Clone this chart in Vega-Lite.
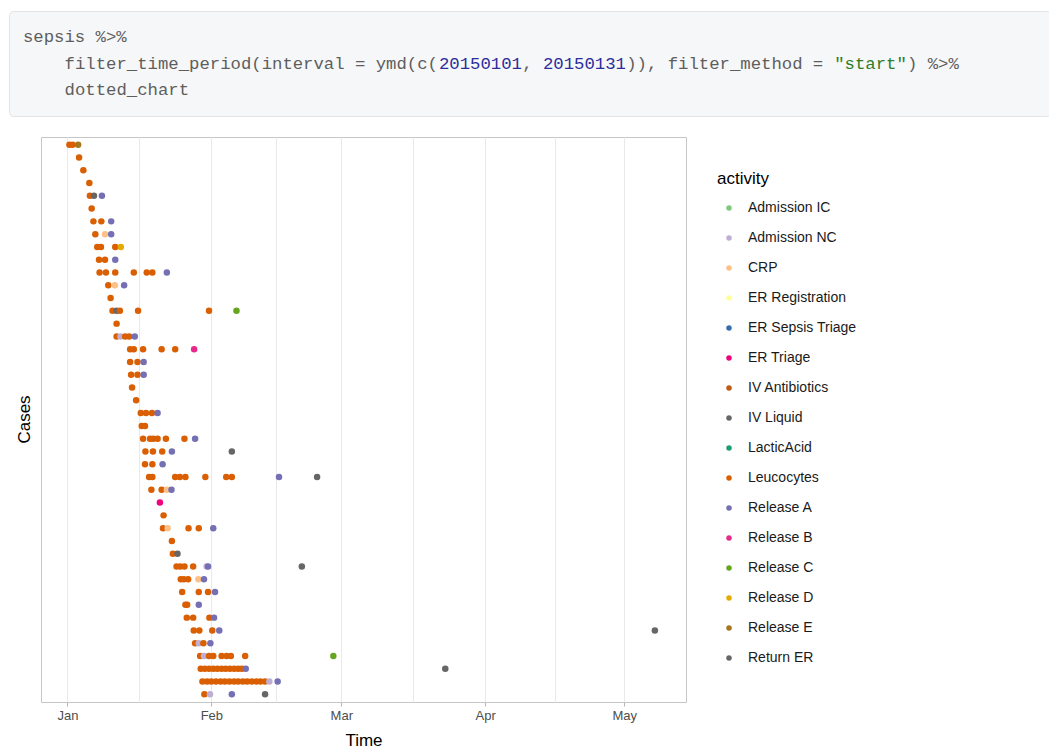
{
  "$schema": "https://vega.github.io/schema/vega-lite/v6.json",
  "padding": {"left": 8, "top": 10, "right": 0, "bottom": 0},
  "spacing": 19,
  "background": "white",
  "config": {"font": "Liberation Sans"},
  "datasets": {
    "code": [
      {"line": 1, "col": 0, "text": "sepsis %>%", "kind": "plain"},
      {"line": 2, "col": 4, "text": "filter_time_period(interval = ymd(c(", "kind": "plain"},
      {"line": 2, "col": 40, "text": "20150101", "kind": "number"},
      {"line": 2, "col": 48, "text": ",", "kind": "plain"},
      {"line": 2, "col": 50, "text": "20150131", "kind": "number"},
      {"line": 2, "col": 58, "text": ")), filter_method = ", "kind": "plain"},
      {"line": 2, "col": 78, "text": "\"start\"", "kind": "string"},
      {"line": 2, "col": 85, "text": ") %>%", "kind": "plain"},
      {"line": 3, "col": 4, "text": "dotted_chart", "kind": "plain"}
    ],
    "ytitle": [{"label": "Cases"}],
    "events": [
      {"case": 1, "time": "2015-01-01T10:00", "activity": "Leucocytes"},
      {"case": 1, "time": "2015-01-02T02:00", "activity": "Leucocytes"},
      {"case": 1, "time": "2015-01-03T07:00", "activity": "Release E"},
      {"case": 2, "time": "2015-01-03T12:00", "activity": "Leucocytes"},
      {"case": 3, "time": "2015-01-04T10:00", "activity": "Leucocytes"},
      {"case": 4, "time": "2015-01-05T17:00", "activity": "Leucocytes"},
      {"case": 5, "time": "2015-01-05T20:00", "activity": "Leucocytes"},
      {"case": 5, "time": "2015-01-06T17:00", "activity": "IV Liquid"},
      {"case": 5, "time": "2015-01-08T10:00", "activity": "Release A"},
      {"case": 6, "time": "2015-01-06T05:00", "activity": "Leucocytes"},
      {"case": 7, "time": "2015-01-06T14:00", "activity": "Leucocytes"},
      {"case": 7, "time": "2015-01-08T07:00", "activity": "Leucocytes"},
      {"case": 7, "time": "2015-01-10T10:00", "activity": "Release A"},
      {"case": 8, "time": "2015-01-07T00:00", "activity": "Leucocytes"},
      {"case": 8, "time": "2015-01-09T02:00", "activity": "CRP"},
      {"case": 8, "time": "2015-01-10T10:00", "activity": "Release A"},
      {"case": 9, "time": "2015-01-07T10:00", "activity": "Leucocytes"},
      {"case": 9, "time": "2015-01-08T05:00", "activity": "Leucocytes"},
      {"case": 9, "time": "2015-01-11T07:00", "activity": "Leucocytes"},
      {"case": 9, "time": "2015-01-12T12:00", "activity": "Release D"},
      {"case": 10, "time": "2015-01-07T19:00", "activity": "Leucocytes"},
      {"case": 10, "time": "2015-01-09T02:00", "activity": "Leucocytes"},
      {"case": 10, "time": "2015-01-11T07:00", "activity": "Release A"},
      {"case": 11, "time": "2015-01-07T22:00", "activity": "Leucocytes"},
      {"case": 11, "time": "2015-01-09T07:00", "activity": "Leucocytes"},
      {"case": 11, "time": "2015-01-11T07:00", "activity": "Leucocytes"},
      {"case": 11, "time": "2015-01-15T07:00", "activity": "Leucocytes"},
      {"case": 11, "time": "2015-01-18T02:00", "activity": "Leucocytes"},
      {"case": 11, "time": "2015-01-19T07:00", "activity": "Leucocytes"},
      {"case": 11, "time": "2015-01-22T10:00", "activity": "Release A"},
      {"case": 12, "time": "2015-01-09T19:00", "activity": "Leucocytes"},
      {"case": 12, "time": "2015-01-11T05:00", "activity": "CRP"},
      {"case": 12, "time": "2015-01-13T05:00", "activity": "Release A"},
      {"case": 13, "time": "2015-01-10T07:00", "activity": "Leucocytes"},
      {"case": 14, "time": "2015-01-10T17:00", "activity": "Leucocytes"},
      {"case": 14, "time": "2015-01-11T14:00", "activity": "IV Liquid"},
      {"case": 14, "time": "2015-01-12T07:00", "activity": "Leucocytes"},
      {"case": 14, "time": "2015-01-16T05:00", "activity": "Leucocytes"},
      {"case": 14, "time": "2015-01-31T12:00", "activity": "Leucocytes"},
      {"case": 14, "time": "2015-02-06T10:00", "activity": "Release C"},
      {"case": 15, "time": "2015-01-11T14:00", "activity": "Leucocytes"},
      {"case": 16, "time": "2015-01-11T14:00", "activity": "Leucocytes"},
      {"case": 16, "time": "2015-01-12T10:00", "activity": "Admission NC"},
      {"case": 16, "time": "2015-01-13T10:00", "activity": "Leucocytes"},
      {"case": 16, "time": "2015-01-14T07:00", "activity": "Leucocytes"},
      {"case": 16, "time": "2015-01-15T12:00", "activity": "Release A"},
      {"case": 17, "time": "2015-01-14T12:00", "activity": "Leucocytes"},
      {"case": 17, "time": "2015-01-15T07:00", "activity": "Leucocytes"},
      {"case": 17, "time": "2015-01-17T07:00", "activity": "Leucocytes"},
      {"case": 17, "time": "2015-01-21T07:00", "activity": "Leucocytes"},
      {"case": 17, "time": "2015-01-24T05:00", "activity": "Leucocytes"},
      {"case": 17, "time": "2015-01-28T07:00", "activity": "Release B"},
      {"case": 18, "time": "2015-01-14T12:00", "activity": "Leucocytes"},
      {"case": 18, "time": "2015-01-16T02:00", "activity": "Leucocytes"},
      {"case": 18, "time": "2015-01-17T10:00", "activity": "Release A"},
      {"case": 19, "time": "2015-01-14T17:00", "activity": "Leucocytes"},
      {"case": 19, "time": "2015-01-16T02:00", "activity": "Leucocytes"},
      {"case": 19, "time": "2015-01-17T10:00", "activity": "Release A"},
      {"case": 20, "time": "2015-01-14T22:00", "activity": "Leucocytes"},
      {"case": 21, "time": "2015-01-15T19:00", "activity": "Leucocytes"},
      {"case": 22, "time": "2015-01-16T19:00", "activity": "Leucocytes"},
      {"case": 22, "time": "2015-01-17T22:00", "activity": "Leucocytes"},
      {"case": 22, "time": "2015-01-19T05:00", "activity": "Leucocytes"},
      {"case": 22, "time": "2015-01-20T10:00", "activity": "Release A"},
      {"case": 23, "time": "2015-01-17T00:00", "activity": "Leucocytes"},
      {"case": 23, "time": "2015-01-17T17:00", "activity": "Leucocytes"},
      {"case": 24, "time": "2015-01-17T07:00", "activity": "Leucocytes"},
      {"case": 24, "time": "2015-01-18T19:00", "activity": "Leucocytes"},
      {"case": 24, "time": "2015-01-19T12:00", "activity": "Leucocytes"},
      {"case": 24, "time": "2015-01-20T10:00", "activity": "Leucocytes"},
      {"case": 24, "time": "2015-01-22T05:00", "activity": "Leucocytes"},
      {"case": 24, "time": "2015-01-26T05:00", "activity": "Leucocytes"},
      {"case": 24, "time": "2015-01-28T12:00", "activity": "Release A"},
      {"case": 25, "time": "2015-01-17T19:00", "activity": "Leucocytes"},
      {"case": 25, "time": "2015-01-19T10:00", "activity": "Leucocytes"},
      {"case": 25, "time": "2015-01-21T10:00", "activity": "Leucocytes"},
      {"case": 25, "time": "2015-01-23T12:00", "activity": "Release A"},
      {"case": 25, "time": "2015-02-05T10:00", "activity": "Return ER"},
      {"case": 26, "time": "2015-01-17T17:00", "activity": "Leucocytes"},
      {"case": 26, "time": "2015-01-19T07:00", "activity": "Leucocytes"},
      {"case": 26, "time": "2015-01-21T12:00", "activity": "Release A"},
      {"case": 27, "time": "2015-01-18T14:00", "activity": "Leucocytes"},
      {"case": 27, "time": "2015-01-19T07:00", "activity": "Leucocytes"},
      {"case": 27, "time": "2015-01-24T05:00", "activity": "Leucocytes"},
      {"case": 27, "time": "2015-01-25T05:00", "activity": "Leucocytes"},
      {"case": 27, "time": "2015-01-26T10:00", "activity": "Leucocytes"},
      {"case": 27, "time": "2015-01-30T17:00", "activity": "Leucocytes"},
      {"case": 27, "time": "2015-02-04T05:00", "activity": "Leucocytes"},
      {"case": 27, "time": "2015-02-05T10:00", "activity": "Leucocytes"},
      {"case": 27, "time": "2015-02-15T14:00", "activity": "Release A"},
      {"case": 27, "time": "2015-02-23T19:00", "activity": "Return ER"},
      {"case": 28, "time": "2015-01-19T02:00", "activity": "Leucocytes"},
      {"case": 28, "time": "2015-01-21T07:00", "activity": "Leucocytes"},
      {"case": 28, "time": "2015-01-22T10:00", "activity": "CRP"},
      {"case": 28, "time": "2015-01-23T10:00", "activity": "Release A"},
      {"case": 29, "time": "2015-01-20T22:00", "activity": "ER Triage"},
      {"case": 30, "time": "2015-01-21T17:00", "activity": "Leucocytes"},
      {"case": 31, "time": "2015-01-21T14:00", "activity": "Leucocytes"},
      {"case": 31, "time": "2015-01-22T14:00", "activity": "CRP"},
      {"case": 31, "time": "2015-01-27T02:00", "activity": "Leucocytes"},
      {"case": 31, "time": "2015-01-29T07:00", "activity": "Leucocytes"},
      {"case": 31, "time": "2015-02-01T10:00", "activity": "Release A"},
      {"case": 32, "time": "2015-01-23T12:00", "activity": "Leucocytes"},
      {"case": 33, "time": "2015-01-23T17:00", "activity": "Leucocytes"},
      {"case": 33, "time": "2015-01-24T17:00", "activity": "IV Liquid"},
      {"case": 34, "time": "2015-01-24T12:00", "activity": "Leucocytes"},
      {"case": 34, "time": "2015-01-25T07:00", "activity": "Leucocytes"},
      {"case": 34, "time": "2015-01-26T05:00", "activity": "Leucocytes"},
      {"case": 34, "time": "2015-01-28T02:00", "activity": "Leucocytes"},
      {"case": 34, "time": "2015-01-31T00:00", "activity": "Admission NC"},
      {"case": 34, "time": "2015-01-31T07:00", "activity": "Release A"},
      {"case": 34, "time": "2015-02-20T12:00", "activity": "Return ER"},
      {"case": 35, "time": "2015-01-25T10:00", "activity": "Leucocytes"},
      {"case": 35, "time": "2015-01-26T02:00", "activity": "Leucocytes"},
      {"case": 35, "time": "2015-01-27T00:00", "activity": "Leucocytes"},
      {"case": 35, "time": "2015-01-29T05:00", "activity": "CRP"},
      {"case": 35, "time": "2015-01-30T10:00", "activity": "Release A"},
      {"case": 36, "time": "2015-01-25T17:00", "activity": "Leucocytes"},
      {"case": 36, "time": "2015-01-29T07:00", "activity": "Leucocytes"},
      {"case": 36, "time": "2015-01-31T07:00", "activity": "Leucocytes"},
      {"case": 36, "time": "2015-02-01T19:00", "activity": "Release A"},
      {"case": 37, "time": "2015-01-26T10:00", "activity": "Leucocytes"},
      {"case": 37, "time": "2015-01-26T19:00", "activity": "Leucocytes"},
      {"case": 37, "time": "2015-01-29T07:00", "activity": "Release A"},
      {"case": 38, "time": "2015-01-26T17:00", "activity": "Leucocytes"},
      {"case": 38, "time": "2015-01-28T02:00", "activity": "Leucocytes"},
      {"case": 38, "time": "2015-01-31T14:00", "activity": "Leucocytes"},
      {"case": 38, "time": "2015-02-01T14:00", "activity": "Release A"},
      {"case": 39, "time": "2015-01-28T05:00", "activity": "Leucocytes"},
      {"case": 39, "time": "2015-01-29T10:00", "activity": "Leucocytes"},
      {"case": 39, "time": "2015-02-01T05:00", "activity": "Leucocytes"},
      {"case": 39, "time": "2015-02-02T17:00", "activity": "Release A"},
      {"case": 39, "time": "2015-05-07T14:00", "activity": "Return ER"},
      {"case": 40, "time": "2015-01-28T12:00", "activity": "Leucocytes"},
      {"case": 40, "time": "2015-01-29T07:00", "activity": "Admission NC"},
      {"case": 40, "time": "2015-01-30T07:00", "activity": "Leucocytes"},
      {"case": 40, "time": "2015-01-31T19:00", "activity": "Release A"},
      {"case": 41, "time": "2015-01-29T14:00", "activity": "Leucocytes"},
      {"case": 41, "time": "2015-01-30T10:00", "activity": "Admission NC"},
      {"case": 41, "time": "2015-01-31T12:00", "activity": "Leucocytes"},
      {"case": 41, "time": "2015-02-01T10:00", "activity": "Leucocytes"},
      {"case": 41, "time": "2015-02-03T05:00", "activity": "Leucocytes"},
      {"case": 41, "time": "2015-02-04T07:00", "activity": "Leucocytes"},
      {"case": 41, "time": "2015-02-05T05:00", "activity": "Leucocytes"},
      {"case": 41, "time": "2015-02-08T07:00", "activity": "Leucocytes"},
      {"case": 41, "time": "2015-02-27T07:00", "activity": "Release C"},
      {"case": 42, "time": "2015-01-29T17:00", "activity": "Leucocytes"},
      {"case": 42, "time": "2015-01-30T14:00", "activity": "Leucocytes"},
      {"case": 42, "time": "2015-01-31T12:00", "activity": "Leucocytes"},
      {"case": 42, "time": "2015-02-01T10:00", "activity": "Leucocytes"},
      {"case": 42, "time": "2015-02-02T07:00", "activity": "Leucocytes"},
      {"case": 42, "time": "2015-02-03T05:00", "activity": "Leucocytes"},
      {"case": 42, "time": "2015-02-04T02:00", "activity": "Leucocytes"},
      {"case": 42, "time": "2015-02-05T00:00", "activity": "Leucocytes"},
      {"case": 42, "time": "2015-02-05T22:00", "activity": "Leucocytes"},
      {"case": 42, "time": "2015-02-06T19:00", "activity": "Leucocytes"},
      {"case": 42, "time": "2015-02-07T14:00", "activity": "Leucocytes"},
      {"case": 42, "time": "2015-02-08T10:00", "activity": "Release A"},
      {"case": 42, "time": "2015-03-23T10:00", "activity": "Return ER"},
      {"case": 43, "time": "2015-01-30T02:00", "activity": "Leucocytes"},
      {"case": 43, "time": "2015-01-31T02:00", "activity": "Leucocytes"},
      {"case": 43, "time": "2015-02-01T00:00", "activity": "Leucocytes"},
      {"case": 43, "time": "2015-02-02T00:00", "activity": "Leucocytes"},
      {"case": 43, "time": "2015-02-03T00:00", "activity": "Leucocytes"},
      {"case": 43, "time": "2015-02-03T22:00", "activity": "Leucocytes"},
      {"case": 43, "time": "2015-02-04T22:00", "activity": "Leucocytes"},
      {"case": 43, "time": "2015-02-05T22:00", "activity": "Leucocytes"},
      {"case": 43, "time": "2015-02-06T19:00", "activity": "Leucocytes"},
      {"case": 43, "time": "2015-02-07T19:00", "activity": "Leucocytes"},
      {"case": 43, "time": "2015-02-08T17:00", "activity": "Leucocytes"},
      {"case": 43, "time": "2015-02-09T17:00", "activity": "Leucocytes"},
      {"case": 43, "time": "2015-02-10T17:00", "activity": "Leucocytes"},
      {"case": 43, "time": "2015-02-11T14:00", "activity": "Leucocytes"},
      {"case": 43, "time": "2015-02-12T14:00", "activity": "Leucocytes"},
      {"case": 43, "time": "2015-02-13T12:00", "activity": "Admission NC"},
      {"case": 43, "time": "2015-02-15T07:00", "activity": "Release A"},
      {"case": 44, "time": "2015-01-30T12:00", "activity": "Leucocytes"},
      {"case": 44, "time": "2015-01-31T17:00", "activity": "Admission NC"},
      {"case": 44, "time": "2015-02-05T10:00", "activity": "Release A"},
      {"case": 44, "time": "2015-02-12T14:00", "activity": "Return ER"}
    ]
  },
  "vconcat": [
    {
      "width": 1041,
      "height": 105,
      "view": {"fill": "#f6f7f8", "stroke": "#e2e4e6", "cornerRadius": 4},
      "data": {"name": "code"},
      "encoding": {
        "x": {"field": "col", "type": "quantitative", "scale": {"domain": [-1.346, 98.75], "nice": false, "zero": false}, "axis": null},
        "y": {"field": "line", "type": "quantitative", "scale": {"domain": [0, 4], "reverse": true, "nice": false}, "axis": null},
        "text": {"field": "text"}
      },
      "layer": [
        {"transform": [{"filter": "datum.kind == 'plain'"}], "mark": {"type": "text", "align": "left", "baseline": "middle", "font": "Liberation Mono", "fontSize": 17.3, "color": "#5e5e5e"}},
        {"transform": [{"filter": "datum.kind == 'number'"}], "mark": {"type": "text", "align": "left", "baseline": "middle", "font": "Liberation Mono", "fontSize": 17.3, "color": "#2c2c9c"}},
        {"transform": [{"filter": "datum.kind == 'string'"}], "mark": {"type": "text", "align": "left", "baseline": "middle", "font": "Liberation Mono", "fontSize": 17.3, "color": "#2f7d2a"}}
      ]
    },
    {
      "spacing": 0,
      "hconcat": [
        {
          "width": 31,
          "height": 565,
          "view": {"stroke": null},
          "data": {"name": "ytitle"},
          "mark": {"type": "text", "angle": 270, "fontSize": 17, "color": "#000000", "font": "Liberation Sans", "align": "center", "baseline": "middle"},
          "encoding": {"text": {"field": "label"}}
        },
        {
          "width": 645,
          "height": 565,
          "view": {"stroke": "#c6c6c6", "strokeWidth": 1},
          "data": {"name": "events"},
          "mark": {"type": "circle", "size": 42, "opacity": 1},
          "encoding": {
            "x": {
              "field": "time", "type": "temporal", "title": "Time",
              "scale": {"domain": [{"year": 2014, "month": 12, "date": 26, "hours": 7}, {"year": 2015, "month": 5, "date": 14, "hours": 7}], "nice": false},
              "axis": {
                "values": [
                  {"year": 2015, "month": 1, "date": 1},
                  {"year": 2015, "month": 1, "date": 16, "hours": 12},
                  {"year": 2015, "month": 2, "date": 1},
                  {"year": 2015, "month": 2, "date": 15},
                  {"year": 2015, "month": 3, "date": 1},
                  {"year": 2015, "month": 3, "date": 16, "hours": 12},
                  {"year": 2015, "month": 4, "date": 1},
                  {"year": 2015, "month": 4, "date": 16},
                  {"year": 2015, "month": 5, "date": 1}
                ],
                "labelExpr": "date(datum.value) == 1 ? timeFormat(datum.value, '%b') : ''",
                "labelOverlap": false,
                "labelFlush": false,
                "grid": true,
                "gridColor": "#e9e9e9",
                "gridWidth": 1,
                "domain": false,
                "tickColor": "#b5b5b5",
                "tickSize": 4,
                "tickOpacity": {"condition": {"test": "date(datum.value) == 1", "value": 1}, "value": 0},
                "labelFontSize": 13,
                "labelColor": "#4d4d4d",
                "labelPadding": 3,
                "titleFontSize": 17,
                "titleFontWeight": "normal",
                "titleColor": "#000000",
                "titlePadding": 10
              }
            },
            "y": {
              "field": "case", "type": "ordinal", "title": null,
              "scale": {"type": "point", "padding": 0.6},
              "axis": {"labels": false, "ticks": false, "domain": false, "grid": false, "minExtent": 0}
            },
            "color": {
              "field": "activity", "type": "nominal", "title": "activity",
              "scale": {
                "domain": ["Admission IC", "Admission NC", "CRP", "ER Registration", "ER Sepsis Triage", "ER Triage", "IV Antibiotics", "IV Liquid", "LacticAcid", "Leucocytes", "Release A", "Release B", "Release C", "Release D", "Release E", "Return ER"],
                "range": ["#7fc97f", "#beaed4", "#fdc086", "#ffff99", "#386cb0", "#f0027f", "#bf5b17", "#666666", "#1b9e77", "#d95f02", "#7570b3", "#e7298a", "#66a61e", "#e6ab02", "#a6761d", "#666666"]
              },
              "legend": {
                "orient": "none", "legendX": 708, "legendY": 160, "padding": 0,
                "titleFontSize": 17, "titleFontWeight": "normal", "titleColor": "#000000", "titlePadding": 13,
                "labelFontSize": 14, "labelColor": "#1a1a1a", "labelOffset": 12,
                "symbolType": "circle", "symbolSize": 30, "symbolStrokeWidth": 0, "symbolOffset": 5,
                "rowPadding": 16
              }
            }
          }
        }
      ]
    }
  ]
}
